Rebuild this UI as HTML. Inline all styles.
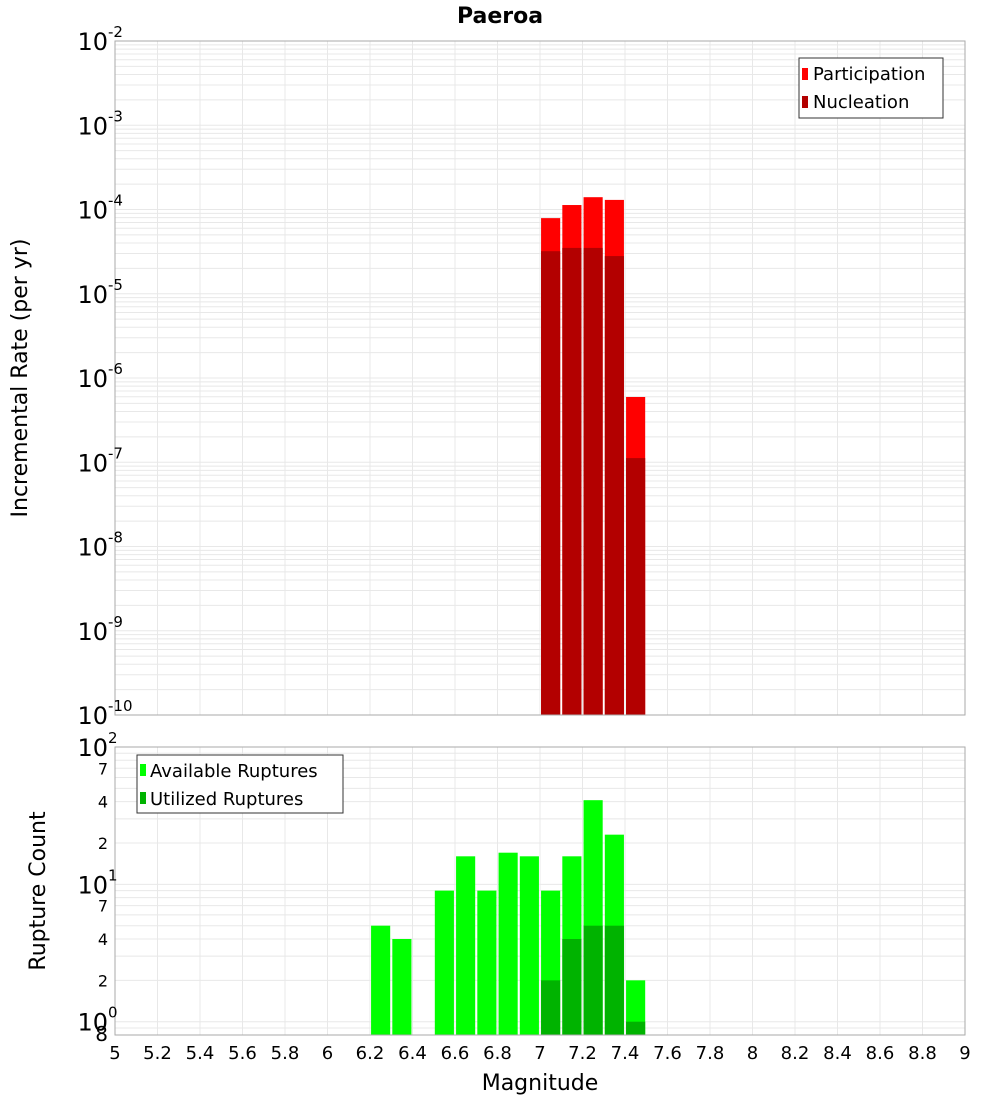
<!DOCTYPE html>
<html><head><meta charset="utf-8"><style>
body{margin:0;background:#fff}
svg{display:block;font-family:"DejaVu Sans","Liberation Sans",sans-serif}
</style></head><body>
<svg id="c" width="1000" height="1100" xmlns="http://www.w3.org/2000/svg">
<rect width="1000" height="1100" fill="#fff"/>
<text x="500" y="23" text-anchor="middle" font-size="22" font-weight="bold">Paeroa</text>
<g id="topg"></g><g id="botg"></g>
</svg>
<script>
const binCenters=[6.25,6.35,6.45,6.55,6.65,6.75,6.85,6.95,7.05,7.15,7.25,7.35,7.45];
const participation=[0,0,0,0,0,0,0,0,7.9e-5,1.13e-4,1.4e-4,1.3e-4,5.95e-7];
const nucleation=[0,0,0,0,0,0,0,0,3.2e-5,3.5e-5,3.5e-5,2.8e-5,1.12e-7];
const available=[5,4,0,9,16,9,17,16,9,16,41,23,2];
const utilized=[0,0,0,0,0,0,0,0,2,4,5,5,1];
const xTicks=[5,5.2,5.4,5.6,5.8,6,6.2,6.4,6.6,6.8,7,7.2,7.4,7.6,7.8,8,8.2,8.4,8.6,8.8,9];
const topDecades=[-10,-9,-8,-7,-6,-5,-4,-3,-2];
const NS="http://www.w3.org/2000/svg";
function mk(p,t,a){const e=document.createElementNS(NS,t);for(const k in a)e.setAttribute(k,a[k]);p.appendChild(e);return e;}
const X0=115,X1=965;
const xs=v=>X0+(v-5)/4*(X1-X0);
const T0=41,T1=715;
const yT=v=>T1-(Math.log10(v)+10)/8*(T1-T0);
const B0=747,B1=1035,bmin=Math.log10(0.8),bmax=2;
const yB=v=>B1-(Math.log10(v)-bmin)/(bmax-bmin)*(B1-B0);
const svg=document.getElementById('c');
const topG=document.getElementById('topg'),botG=document.getElementById('botg');
function grid(g,ys,y0,y1){
  xTicks.forEach(t=>{const l=mk(g,'line',{x1:xs(t),x2:xs(t),y1:y0,y2:y1,stroke:'#e8e8e8'});
    
    });
  ys.forEach(y=>{const l=mk(g,'line',{x1:X0,x2:X1,y1:y,y2:y,stroke:'#e8e8e8'});
    
    });
}
let tys=[];
for(let d=-10;d<-2;d++)for(let m=1;m<10;m++)tys.push(yT(m*Math.pow(10,d)));
grid(topG,tys,T0,T1);
binCenters.forEach((c,i)=>{
  if(participation[i]>0){const r=mk(topG,'rect',{x:xs(c-0.045),width:xs(5.09)-X0,y:yT(participation[i]),height:T1-yT(participation[i]),fill:'#ff0000'});
    
    }
  if(nucleation[i]>0){const r=mk(topG,'rect',{x:xs(c-0.045),width:xs(5.09)-X0,y:yT(nucleation[i]),height:T1-yT(nucleation[i]),fill:'#b30000'});
    
    }
});
mk(topG,'rect',{x:X0,y:T0,width:X1-X0,height:T1-T0,fill:'none',stroke:'#aaa'});
topDecades.forEach(d=>{const t=mk(topG,'text',{x:108,y:yT(Math.pow(10,d))+9,'text-anchor':'end','font-size':24});
  
  
  t.textContent='10';
  const s=mk(topG,'text',{x:108,y:yT(Math.pow(10,d))-4,'font-size':15});
  
  
  s.textContent=String(d);});
let lg=mk(topG,'g',{});


mk(lg,'rect',{x:799,y:58,width:144,height:60,fill:'#fff',stroke:'#333'});
mk(lg,'rect',{x:802,y:68,width:6,height:12,fill:'#ff0000'});
mk(lg,'rect',{x:802,y:96,width:6,height:12,fill:'#b30000'});
let lt=mk(lg,'text',{x:813,y:80,'font-size':18});lt.textContent='Participation';
lt=mk(lg,'text',{x:813,y:108,'font-size':18});lt.textContent='Nucleation';
let yl=mk(svg,'text',{transform:'translate(27,378) rotate(-90)','text-anchor':'middle','font-size':22});


yl.textContent='Incremental Rate (per yr)';
let bys=[];
[0.8,0.9,1,2,3,4,5,6,7,8,9,10,20,30,40,50,60,70,80,90].forEach(v=>bys.push(yB(v)));
grid(botG,bys,B0,B1);
binCenters.forEach((c,i)=>{
  if(available[i]>0){const r=mk(botG,'rect',{x:xs(c-0.045),width:xs(5.09)-X0,y:yB(available[i]),height:B1-yB(available[i]),fill:'#00ff00'});
    
    }
  if(utilized[i]>0){const r=mk(botG,'rect',{x:xs(c-0.045),width:xs(5.09)-X0,y:yB(utilized[i]),height:B1-yB(utilized[i]),fill:'#00b300'});
    
    }
});
mk(botG,'rect',{x:X0,y:B0,width:X1-X0,height:B1-B0,fill:'none',stroke:'#aaa'});
[[100,'2'],[10,'1'],[1,'0']].forEach(([v,e])=>{const t=mk(botG,'text',{x:108,y:yB(v)+9,'text-anchor':'end','font-size':24});
  
  
  t.textContent='10';
  const s=mk(botG,'text',{x:108,y:yB(v)-4,'font-size':15});
  
  
  s.textContent=e;});
[[70,'7'],[40,'4'],[20,'2'],[7,'7'],[4,'4'],[2,'2'],[0.8,'8']].forEach(([v,l])=>{const t=mk(botG,'text',{x:108,y:yB(v)+6,'text-anchor':'end','font-size':v<1?20:16});
  
  
  t.textContent=l;});
lg=mk(botG,'g',{});


mk(lg,'rect',{x:137,y:755,width:206,height:58,fill:'#fff',stroke:'#333'});
mk(lg,'rect',{x:140,y:764,width:6,height:12,fill:'#00ff00'});
mk(lg,'rect',{x:140,y:792,width:6,height:12,fill:'#00b300'});
lt=mk(lg,'text',{x:150,y:777,'font-size':18});lt.textContent='Available Ruptures';
lt=mk(lg,'text',{x:150,y:805,'font-size':18});lt.textContent='Utilized Ruptures';
yl=mk(svg,'text',{transform:'translate(45,891) rotate(-90)','text-anchor':'middle','font-size':22});


yl.textContent='Rupture Count';
xTicks.forEach(t=>{const e=mk(svg,'text',{x:xs(t),y:1059,'text-anchor':'middle','font-size':18});
  
  
  e.textContent=String(t);});
const xt=mk(svg,'text',{x:540,y:1090,'text-anchor':'middle','font-size':22});


xt.textContent='Magnitude';
</script>
</body></html>
